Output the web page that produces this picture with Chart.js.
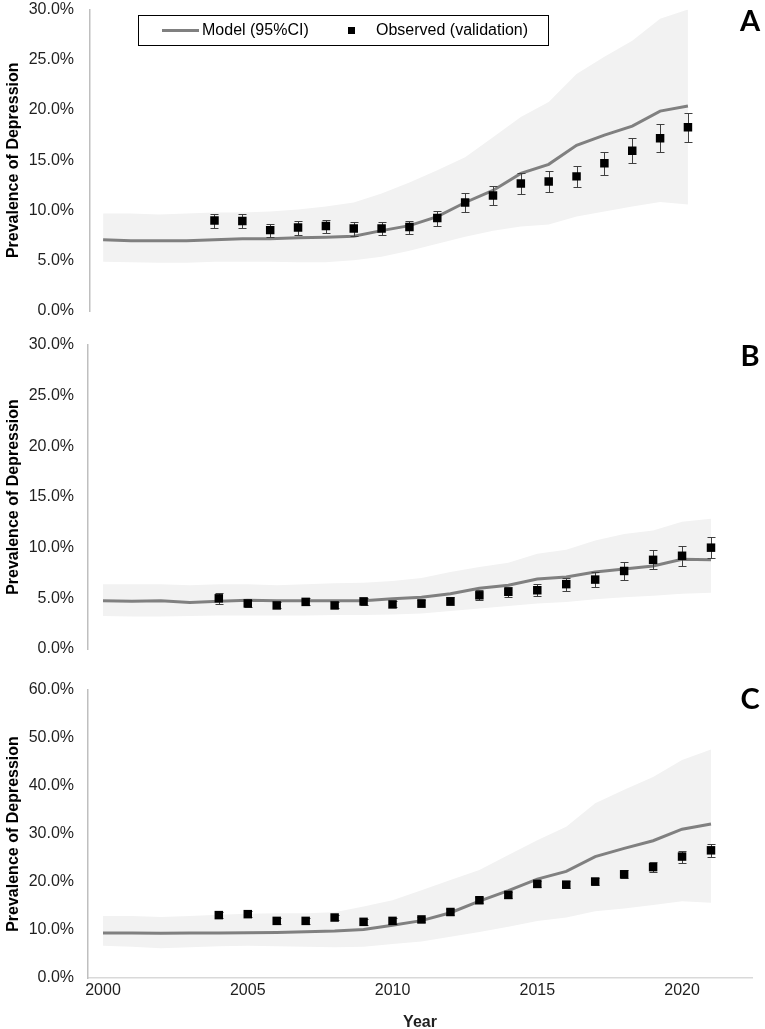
<!DOCTYPE html>
<html>
<head>
<meta charset="utf-8">
<script src="https://cdn.jsdelivr.net/npm/chart.js@4.4.0/dist/chart.umd.min.js"></script>
<style>
  body { margin: 0; background: #fff; }
  #wrap { position: relative; width: 765px; height: 1029px; }
  canvas { position: absolute; left: 0; }
</style>
</head>
<body>
<div id="wrap">
  <canvas id="chartA" width="765" height="330" style="top:0px"></canvas>
  <canvas id="chartB" width="765" height="330" style="top:330px"></canvas>
  <canvas id="chartC" width="765" height="369" style="top:660px"></canvas>
</div>
<script>
Chart.defaults.font.family = '"Liberation Sans", Arial, sans-serif';
Chart.defaults.color = '#1f1f1f';

var years = [2000, 2001, 2002, 2003, 2004, 2005, 2006, 2007, 2008, 2009, 2010,
             2011, 2012, 2013, 2014, 2015, 2016, 2017, 2018, 2019, 2020, 2021];
var obsYears = [2004, 2005, 2006, 2007, 2008, 2009, 2010, 2011, 2012,
                2013, 2014, 2015, 2016, 2017, 2018, 2019, 2020, 2021];
var xTicks = [2000, 2005, 2010, 2015, 2020];

// panel A
var modelA = [7.1, 7.0, 7.0, 7.0, 7.1, 7.2, 7.2, 7.3, 7.35, 7.45, 8.0, 8.5, 9.4, 10.8, 12.0, 13.7, 14.6, 16.5, 17.5, 18.4, 19.9, 20.4];
var upperA = [9.7, 9.7, 9.6, 9.7, 9.8, 9.8, 9.9, 10.1, 10.4, 10.8, 11.7, 12.8, 14.0, 15.3, 17.3, 19.3, 20.8, 23.6, 25.3, 26.9, 29.1, 30.0];
var lowerA = [4.9, 4.85, 4.8, 4.8, 4.9, 4.9, 4.9, 4.85, 4.85, 5.05, 5.4, 6.0, 6.7, 7.4, 8.0, 8.4, 8.6, 9.4, 9.9, 10.4, 10.85, 10.6];
var obsA = [9.0, 8.95, 8.05, 8.3, 8.45, 8.2, 8.2, 8.35, 9.25, 10.8, 11.5, 12.7, 12.9, 13.4, 14.7, 15.95, 17.2, 18.3];
var errA = [0.7, 0.7, 0.65, 0.7, 0.65, 0.7, 0.65, 0.65, 0.75, 0.9, 0.9, 1.05, 1.05, 1.05, 1.15, 1.25, 1.4, 1.45];

// panel B
var modelB = [4.75, 4.7, 4.75, 4.6, 4.7, 4.8, 4.75, 4.75, 4.75, 4.75, 4.95, 5.1, 5.45, 6.0, 6.3, 6.9, 7.1, 7.6, 7.9, 8.2, 8.85, 8.8];
var upperB = [6.4, 6.4, 6.4, 6.3, 6.4, 6.4, 6.3, 6.4, 6.5, 6.55, 6.7, 7.0, 7.6, 8.1, 8.5, 9.4, 9.8, 10.7, 11.35, 11.7, 12.55, 12.85];
var lowerB = [3.25, 3.2, 3.2, 3.25, 3.3, 3.3, 3.3, 3.3, 3.35, 3.35, 3.4, 3.5, 3.75, 4.0, 4.25, 4.5, 4.65, 4.9, 5.1, 5.25, 5.45, 5.55];
var obsB = [5.0, 4.5, 4.3, 4.65, 4.3, 4.7, 4.4, 4.5, 4.7, 5.3, 5.65, 5.8, 6.4, 6.85, 7.7, 8.8, 9.2, 10.0];
var errB = [0.55, 0.35, 0.3, 0.35, 0.3, 0.35, 0.3, 0.35, 0.4, 0.5, 0.5, 0.6, 0.65, 0.7, 0.85, 0.95, 1.0, 1.05];

// panel C
var modelC = [9.4, 9.4, 9.3, 9.4, 9.4, 9.45, 9.5, 9.65, 9.8, 10.1, 11.0, 11.95, 13.6, 16.0, 18.2, 20.6, 22.2, 25.3, 27.0, 28.6, 31.0, 32.1];
var upperC = [12.9, 12.9, 12.7, 12.9, 13.2, 13.4, 13.5, 13.5, 13.7, 14.9, 16.2, 18.3, 20.4, 22.5, 25.6, 28.7, 31.5, 36.4, 39.2, 41.9, 45.4, 47.6];
var lowerC = [6.7, 6.5, 6.2, 6.4, 6.6, 6.7, 6.6, 6.5, 6.4, 6.5, 7.1, 7.6, 8.6, 9.6, 10.7, 11.9, 12.6, 13.9, 14.5, 15.2, 16.0, 15.7];
var obsC = [13.1, 13.3, 11.9, 11.9, 12.6, 11.7, 11.9, 12.2, 13.75, 16.2, 17.3, 19.6, 19.45, 20.1, 21.6, 23.1, 25.3, 26.6];
var errC = [0.6, 0.6, 0.6, 0.6, 0.6, 0.6, 0.6, 0.6, 0.6, 0.6, 0.6, 0.7, 0.7, 0.7, 0.8, 1.0, 1.25, 1.3];

function pts(xs, ys) {
    return xs.map(function (x, i) { return { x: x, y: ys[i] }; });
}

// whiskers for the observed points, drawn between the model line and the squares
var errorBars = {
    id: 'errorBars',
    afterDatasetDraw: function (chart, args) {
        if (args.index !== 2) return;
        var ds = chart.data.datasets[3];
        var xs = chart.scales.x, ys = chart.scales.y, ctx = chart.ctx;
        ctx.save();
        ctx.strokeStyle = '#404040';
        ctx.lineWidth = 1;
        ds.data.forEach(function (p, i) {
            var x = Math.round(xs.getPixelForValue(p.x)) + 0.5;
            var t = Math.round(ys.getPixelForValue(p.y + ds.errors[i])) + 0.5;
            var b = Math.round(ys.getPixelForValue(p.y - ds.errors[i])) + 0.5;
            ctx.beginPath();
            ctx.moveTo(x, t); ctx.lineTo(x, b);
            ctx.moveTo(x - 4, t); ctx.lineTo(x + 4, t);
            ctx.moveTo(x - 4, b); ctx.lineTo(x + 4, b);
            ctx.stroke();
        });
        ctx.restore();
    }
};

// panel letter and the boxed legend of panel A
var panelDecor = {
    id: 'panelDecor',
    afterDraw: function (chart, args, opts) {
        var ctx = chart.ctx;
        ctx.save();
        ctx.fillStyle = '#000';
        ctx.font = 'bold 29px Lato, "Liberation Sans", sans-serif';
        ctx.textAlign = 'center';
        ctx.textBaseline = 'middle';
        ctx.fillText(opts.letter, 750, opts.letterY);
        if (opts.legend) {
            ctx.strokeStyle = '#000';
            ctx.lineWidth = 1;
            ctx.fillStyle = '#fff';
            ctx.fillRect(138.5, 15.5, 410, 30);
            ctx.strokeRect(138.5, 15.5, 410, 30);
            ctx.strokeStyle = '#808080';
            ctx.lineWidth = 3;
            ctx.beginPath();
            ctx.moveTo(162, 30.5); ctx.lineTo(199, 30.5);
            ctx.stroke();
            ctx.fillStyle = '#000';
            ctx.fillRect(348, 27, 7, 7);
            ctx.font = '16px "Liberation Sans", Arial, sans-serif';
            ctx.textAlign = 'left';
            ctx.fillText('Model (95%CI)', 202, 31);
            ctx.fillText('Observed (validation)', 376, 31);
        }
        ctx.restore();
    }
};

function makePanel(id, model, lower, upper, obs, err, yMax, yStep, xRange, layout, deco, showX) {
    return new Chart(document.getElementById(id), {
        type: 'line',
        data: {
            datasets: [{
                data: pts(years, lower),
                borderWidth: 0,
                borderColor: 'rgba(0,0,0,0)',
                pointRadius: 0,
                order: 3
            }, {
                data: pts(years, upper),
                borderWidth: 0,
                borderColor: 'rgba(0,0,0,0)',
                backgroundColor: '#f2f2f2',
                pointRadius: 0,
                fill: '-1',
                order: 2
            }, {
                label: 'Model (95%CI)',
                data: pts(years, model),
                borderColor: '#808080',
                borderWidth: 3,
                pointRadius: 0,
                tension: 0,
                order: 1
            }, {
                label: 'Observed (validation)',
                data: pts(obsYears, obs),
                errors: err,
                showLine: false,
                pointStyle: 'rect',
                pointRadius: 6,
                pointBorderWidth: 0,
                pointBackgroundColor: '#000',
                order: 0
            }]
        },
        options: {
            responsive: false,
            animation: false,
            events: [],
            layout: { padding: layout },
            scales: {
                x: {
                    type: 'linear',
                    display: showX,
                    min: xRange[0],
                    max: xRange[1],
                    afterBuildTicks: function (scale) {
                        scale.ticks = xTicks.map(function (v) { return { value: v }; });
                    },
                    afterFit: function (scale) { if (showX) scale.height = 51; },
                    grid: { display: false, drawTicks: false },
                    border: { display: true, color: '#d9d9d9', width: 1.5 },
                    ticks: {
                        autoSkip: false,
                        maxRotation: 0,
                        padding: 3,
                        font: { size: 16 },
                        callback: function (v) { return String(v); }
                    },
                    title: {
                        display: true,
                        text: 'Year',
                        color: '#1f1f1f',
                        font: { size: 16, weight: 'bold', lineHeight: 0.8 },
                        padding: 0
                    }
                },
                y: {
                    min: 0,
                    max: yMax,
                    afterFit: function (scale) { scale.width = layout.axisW; },
                    grid: {
                        display: true,
                        drawOnChartArea: false,
                        drawTicks: true,
                        tickLength: layout.axisW - 74,
                        tickColor: 'rgba(0,0,0,0)'
                    },
                    border: { display: true, color: '#bfbfbf', width: 1.5 },
                    ticks: {
                        stepSize: yStep,
                        padding: 0,
                        font: { size: 16 },
                        callback: function (v) { return v.toFixed(1) + '%'; }
                    },
                    title: {
                        display: true,
                        text: 'Prevalence of Depression',
                        color: '#000',
                        font: { size: 16, weight: 'bold' },
                        padding: { top: 4, bottom: 0 }
                    }
                }
            },
            plugins: {
                legend: { display: false },
                tooltip: { enabled: false },
                filler: { propagate: false },
                panelDecor: deco
            }
        },
        plugins: [errorBars, panelDecor]
    });
}

makePanel('chartA', modelA, lowerA, upperA, obsA, errA, 30, 5,
    [1999.53, 2023.3], { left: 0, right: 13, top: 9, bottom: 19, axisW: 90 },
    { letter: 'A', letterY: 22, legend: true }, false);

makePanel('chartB', modelB, lowerB, upperB, obsB, errB, 30, 5,
    [1999.482, 2022.416], { left: 0, right: 13, top: 15, bottom: 11, axisW: 88 },
    { letter: 'B', letterY: 27, legend: false }, false);

makePanel('chartC', modelC, lowerC, upperC, obsC, errC, 60, 10,
    [1999.482, 2022.416], { left: 0, right: 13, top: 30, bottom: 0, axisW: 88 },
    { letter: 'C', letterY: 40, legend: false }, true);
</script>
</body>
</html>
